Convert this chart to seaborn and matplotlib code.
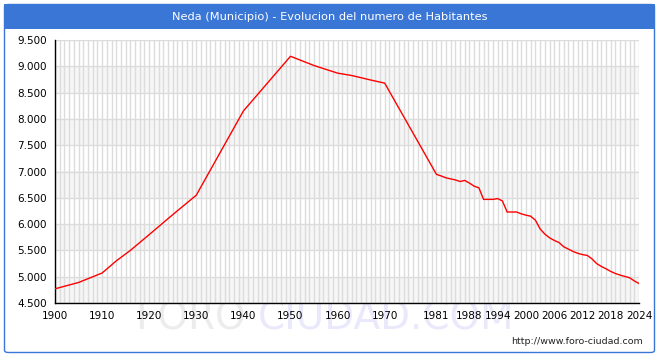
import matplotlib
matplotlib.use("Agg")
import matplotlib.pyplot as plt
from matplotlib.patches import FancyBboxPatch, Rectangle
from matplotlib.ticker import FuncFormatter, MultipleLocator, FixedLocator
import seaborn as sns
import pandas as pd

# ---- data ----
years = [1900, 1905, 1910, 1913, 1916, 1920, 1925, 1930, 1940, 1950, 1952, 1955,
         1960, 1963, 1967, 1970, 1981, 1982, 1983, 1984, 1985, 1986, 1987, 1988,
         1989, 1990, 1991, 1992, 1993, 1994, 1995, 1996, 1997, 1998, 1999, 2000,
         2001, 2002, 2003, 2004, 2005, 2006, 2007, 2008, 2009, 2010, 2011, 2012,
         2013, 2014, 2015, 2016, 2017, 2018, 2019, 2020, 2021, 2022, 2023, 2024]
habitantes = [4770, 4890, 5070, 5300, 5500, 5800, 6180, 6550, 8150, 9190, 9120, 9015,
              8870, 8825, 8740, 8680, 6945, 6915, 6880, 6860, 6840, 6810, 6830, 6780,
              6720, 6690, 6470, 6470, 6470, 6485, 6440, 6230, 6230, 6230, 6195, 6170,
              6150, 6075, 5910, 5810, 5740, 5690, 5650, 5570, 5525, 5480, 5445, 5420,
              5405, 5340, 5250, 5195, 5150, 5100, 5060, 5030, 5005, 4980, 4920, 4870]
tick_years = [1900, 1910, 1920, 1930, 1940, 1950, 1960, 1970, 1981, 1988, 1994,
              2000, 2006, 2012, 2018, 2024]
title = "Neda (Municipio) - Evolucion del numero de Habitantes"

df = pd.DataFrame({"year": years, "hab": habitantes})

sns.set_style("white")
plt.rcParams["font.family"] = ["DejaVu Sans"]

W, H = 659, 358
fig = plt.figure(figsize=(W / 100, H / 100), dpi=100)
fig.patch.set_facecolor("white")

blue = "#3a76d6"
# border + title bar
fig.patches.append(FancyBboxPatch((4.5 / W, 5.5 / H), (650 / W), (348 / H),
                                  boxstyle="round,pad=0,rounding_size=0.006",
                                  transform=fig.transFigure, facecolor="white",
                                  edgecolor=blue, linewidth=1.0, zorder=-10))
fig.patches.append(Rectangle((4 / W, (H - 29) / H), 651 / W, 25 / H,
                             transform=fig.transFigure, facecolor=blue,
                             edgecolor="none", zorder=-9))
fig.text(0.5, (H - 16.5) / H, title, color="white", ha="center", va="center",
         fontsize=8.2)

# watermark (behind everything else)
fig.text(135 / W, (H - 318) / H, "FORO", color="#ececec", fontsize=28,
         ha="left", va="center", zorder=-5)
fig.text(258 / W, (H - 318) / H, "CIUDAD.COM", color="#e9e9fb", fontsize=28,
         ha="left", va="center", zorder=-5)

ax = fig.add_axes([55 / W, (H - 303) / H, 584 / W, 263 / H])
ax.set_facecolor("white")

# alternating bands
for lo in range(4500, 9500, 1000):
    ax.axhspan(lo, lo + 500, color="#f6f6f6", zorder=0, lw=0)

sns.lineplot(data=df, x="year", y="hab", ax=ax, color="#ff0000", linewidth=1.0,
             zorder=3)

ax.set_xlim(1900, 2024)
ax.set_ylim(4500, 9500)
ax.set_xlabel("")
ax.set_ylabel("")

ax.xaxis.set_major_locator(FixedLocator(tick_years))
ax.xaxis.set_minor_locator(MultipleLocator(1))
ax.yaxis.set_major_locator(MultipleLocator(500))
ax.yaxis.set_minor_locator(MultipleLocator(100))
ax.yaxis.set_major_formatter(FuncFormatter(lambda v, p: f"{v:,.0f}".replace(",", ".")))

ax.grid(which="major", axis="y", color="#dcdcdc", linewidth=1.0, zorder=1)
ax.grid(which="both", axis="x", color="#dcdcdc", linewidth=1.0, zorder=1)
ax.set_axisbelow(True)

ax.tick_params(axis="both", which="both", direction="in", color="black",
               labelsize=7.5, labelcolor="black")
ax.tick_params(axis="x", which="both", length=4, width=0.8, pad=6)
ax.tick_params(axis="y", which="major", length=5, width=0.8, pad=6)
ax.tick_params(axis="y", which="minor", length=3, width=0.8)

for s in ["top", "right"]:
    ax.spines[s].set_visible(False)
for s in ["left", "bottom"]:
    ax.spines[s].set_color("black")
    ax.spines[s].set_linewidth(1.0)

fig.text(643 / W, (H - 341) / H, "http://www.foro-ciudad.com", color="#222222",
         fontsize=6.8, ha="right", va="center")

fig.savefig("out.png", dpi=100, facecolor="white")
